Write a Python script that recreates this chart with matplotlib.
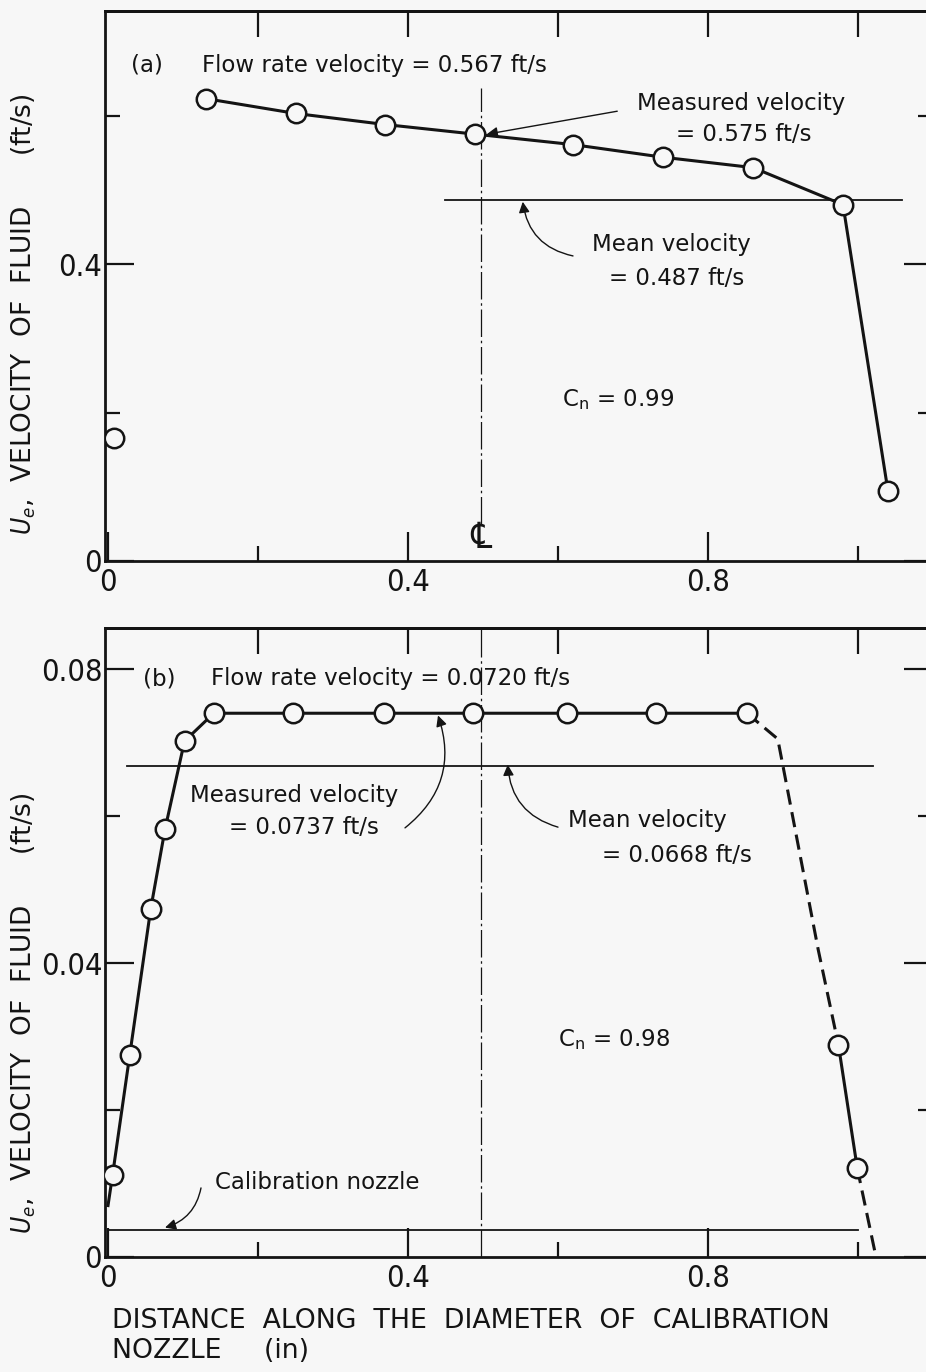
import numpy as np
import matplotlib.pyplot as plt
from matplotlib.ticker import FixedLocator, NullFormatter

plt.rcParams['font.family'] = ['DejaVu Sans']
plt.rcParams['font.stretch'] = 'condensed'

INK = '#141414'
BG = '#f7f7f7'

# panel (a): velocity profile, 0.567 ft/s flow rate
xa = [0.13, 0.25, 0.37, 0.49, 0.62, 0.74, 0.86, 0.98, 1.04]
ua = [0.623, 0.603, 0.588, 0.575, 0.561, 0.544, 0.530, 0.480, 0.094]
xaWall = [0.008]
uaWall = [0.166]
meanA = 0.487

# panel (b): velocity profile, 0.0720 ft/s flow rate
xbLine = [0.0, 0.006, 0.029, 0.057, 0.076, 0.102, 0.141, 0.246, 0.368, 0.487, 0.612, 0.731, 0.852]
ubLine = [0.0070, 0.0111, 0.0275, 0.0474, 0.0582, 0.0702, 0.0740, 0.0740, 0.0740, 0.0740, 0.0740, 0.0740, 0.0740]
xbRight = [0.974, 0.999]
ubRight = [0.0288, 0.0121]
xbDash1 = [0.852, 0.893, 0.900, 0.947, 0.974]
ubDash1 = [0.0740, 0.0705, 0.0668, 0.0418, 0.0288]
xbDash2 = [0.999, 1.024]
ubDash2 = [0.0121, 0.0]
meanB = 0.0668
nozzleB = 0.0037

fig = plt.figure(figsize=(9.26, 13.72), dpi=100, facecolor=BG)
W, H = 926, 1372
axA = fig.add_axes([105 / W, 1 - 561 / H, 828 / W, 550 / H])
axB = fig.add_axes([105 / W, 1 - 1257 / H, 828 / W, 629 / H])

markerStyle = dict(marker='o', markersize=14, markerfacecolor=BG,
                   markeredgecolor=INK, markeredgewidth=1.8)


def styleAxes(ax, yMajor, yMinor, yTop, yFmt):
    ax.set_facecolor(BG)
    ax.set_xlim(-0.004, 1.1)
    ax.set_ylim(0, yTop)
    for s in ax.spines.values():
        s.set_linewidth(2.0)
        s.set_color(INK)
    ax.xaxis.set_major_locator(FixedLocator([0, 0.4, 0.8]))
    ax.xaxis.set_minor_locator(FixedLocator([0.2, 0.6, 1.0]))
    ax.yaxis.set_major_locator(FixedLocator(yMajor))
    ax.yaxis.set_minor_locator(FixedLocator(yMinor))
    ax.set_xticklabels(['0', '0.4', '0.8'])
    ax.set_yticklabels(yFmt)
    ax.tick_params(which='major', direction='in', length=21, width=1.6,
                   color=INK, labelsize=22, labelcolor=INK, pad=5)
    ax.tick_params(which='minor', direction='in', length=11, width=1.6, color=INK)
    ax.tick_params(axis='y', which='major', pad=2)
    ax.tick_params(axis='y', which='major', right=True)
    ax.tick_params(axis='y', which='minor', right=True)
    top = ax.secondary_xaxis('top')
    top.xaxis.set_major_locator(FixedLocator([0.2, 0.4, 0.6, 0.8, 1.0]))
    top.xaxis.set_major_formatter(NullFormatter())
    top.tick_params(direction='in', length=19, width=1.6, color=INK)
    top.spines['top'].set_linewidth(2.0)


styleAxes(axA, [0, 0.4], [0.2, 0.6], 0.741, ['0', '0.4'])
styleAxes(axB, [0, 0.04, 0.08], [0.02, 0.06], 0.0856, ['0', '0.04', '0.08'])

# ---- panel (a)
axA.plot(xa, ua, color=INK, lw=2.2, **markerStyle, zorder=4)
axA.plot(xaWall, uaWall, linestyle='none', **markerStyle, zorder=4)
axA.plot([0.45, 1.059], [meanA, meanA], color=INK, lw=1.3, zorder=2)
axA.plot([0.497, 0.497], [0.05, 0.637], color=INK, lw=0.9,
         linestyle=(0, (22, 3, 2, 3)), zorder=1)
axA.text(0.497, 0.008, '\u2104', fontsize=26, ha='center', va='bottom',
         color=INK, style='italic', family=['DejaVu Sans', 'Noto Sans'])

txt = dict(color=INK, fontsize=16.5, fontstretch='normal')
axA.text(0.031, 0.668, '(a)', ha='left', va='center', **txt)
axA.text(0.126, 0.668, 'Flow rate velocity = 0.567 ft/s', ha='left', va='center', **txt)
axA.text(0.706, 0.617, 'Measured velocity', ha='left', va='center', **txt)
axA.text(0.757, 0.575, '= 0.575 ft/s', ha='left', va='center', **txt)
axA.text(0.645, 0.426, 'Mean velocity', ha='left', va='center', **txt)
axA.text(0.668, 0.381, '= 0.487 ft/s', ha='left', va='center', **txt)
axA.text(0.606, 0.217, r'C$_{\mathregular{n}}$ = 0.99', ha='left', va='center', **txt)

arrow = dict(arrowstyle='-|>', color=INK, lw=1.0, mutation_scale=16,
             shrinkA=0, shrinkB=0)
axA.annotate('', xy=(0.505, 0.575), xytext=(0.679, 0.606),
             arrowprops=dict(arrow, connectionstyle='arc3,rad=0'))
axA.annotate('', xy=(0.553, 0.484), xytext=(0.620, 0.411),
             arrowprops=dict(arrow, connectionstyle='arc3,rad=-0.35'))

# ---- panel (b)
axB.plot(xbLine, ubLine, color=INK, lw=2.2, zorder=3)
axB.plot(xbLine[1:], ubLine[1:], linestyle='none', **markerStyle, zorder=4)
axB.plot(xbRight, ubRight, color=INK, lw=2.2, **markerStyle, zorder=4)
axB.plot(xbDash1, ubDash1, color=INK, lw=2.2, linestyle=(0, (5, 2.5)), zorder=3)
axB.plot(xbDash2, ubDash2, color=INK, lw=2.2, linestyle=(0, (5, 2.5)), zorder=3)
axB.plot([0.025, 1.02], [meanB, meanB], color=INK, lw=1.3, zorder=2)
axB.plot([0.0, 1.0], [nozzleB, nozzleB], color=INK, lw=1.3, zorder=2)
axB.plot([0.497, 0.497], [0.0, 0.0856], color=INK, lw=0.9,
         linestyle=(0, (22, 3, 2, 3)), zorder=1)

axB.text(0.047, 0.0787, '(b)', ha='left', va='center', **txt)
axB.text(0.137, 0.0787, 'Flow rate velocity = 0.0720 ft/s', ha='left', va='center', **txt)
axB.text(0.110, 0.0628, 'Measured velocity', ha='left', va='center', **txt)
axB.text(0.161, 0.0584, '= 0.0737 ft/s', ha='left', va='center', **txt)
axB.text(0.614, 0.0594, 'Mean velocity', ha='left', va='center', **txt)
axB.text(0.659, 0.0546, '= 0.0668 ft/s', ha='left', va='center', **txt)
axB.text(0.600, 0.0296, r'C$_{\mathregular{n}}$ = 0.98', ha='left', va='center', **txt)
axB.text(0.143, 0.0102, 'Calibration nozzle', ha='left', va='center', **txt)

axB.annotate('', xy=(0.440, 0.0737), xytext=(0.396, 0.0584),
             arrowprops=dict(arrow, connectionstyle='arc3,rad=0.35'))
axB.annotate('', xy=(0.533, 0.0670), xytext=(0.600, 0.0585),
             arrowprops=dict(arrow, connectionstyle='arc3,rad=-0.35'))
axB.annotate('', xy=(0.076, 0.0040), xytext=(0.124, 0.0094),
             arrowprops=dict(arrow, connectionstyle='arc3,rad=-0.3'))

# axis labels
ylab = r'$\mathit{U_e}$,  VELOCITY  OF  FLUID      (ft/s)'
axA.text((24 - 105) / 828, 0.449, ylab, transform=axA.transAxes, rotation=90,
         ha='center', va='center', fontsize=19, fontstretch='normal', color=INK)
axB.text((24 - 105) / 828, 0.388, ylab, transform=axB.transAxes, rotation=90,
         ha='center', va='center', fontsize=19, fontstretch='normal', color=INK)
fig.text(112 / W, 1 - 1336 / H,
         'DISTANCE  ALONG  THE  DIAMETER  OF  CALIBRATION\nNOZZLE     (in)',
         ha='left', va='center', fontsize=19.3, fontstretch='normal',
         color=INK, linespacing=1.25)

fig.savefig('out.png', dpi=100, facecolor=BG)
